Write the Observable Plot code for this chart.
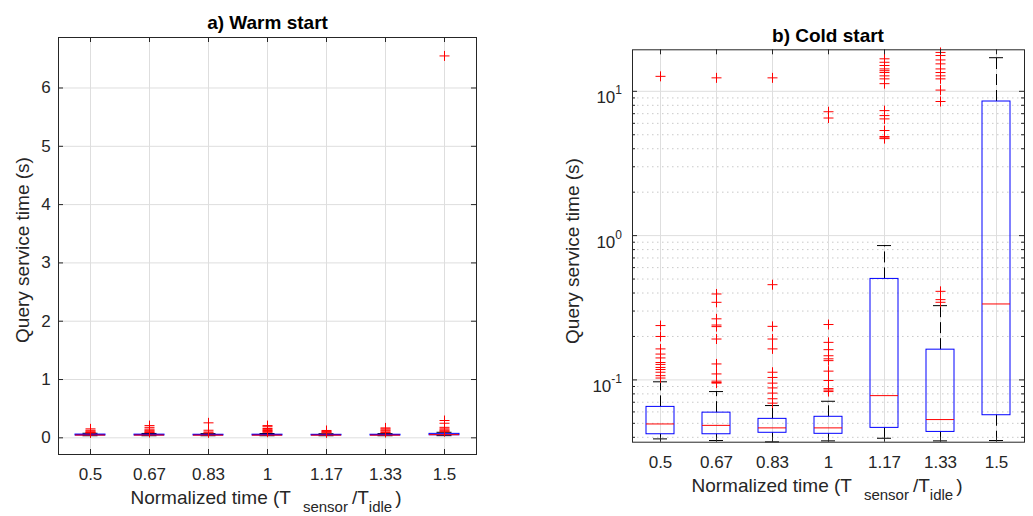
<!DOCTYPE html>
<html><head><meta charset="utf-8">
<script src="https://cdn.jsdelivr.net/npm/d3@7"></script>
<script src="https://cdn.jsdelivr.net/npm/@observablehq/plot@0.6"></script>
<style>
body{margin:0;background:#fff;}
#fig{position:relative;width:1033px;height:516px;overflow:hidden;background:#fff;}
#fig svg{position:absolute;top:0;max-width:none;}
</style></head>
<body><div id="fig"></div>
<script>
// ---------- data ----------
const categories = ["0.5","0.67","0.83","1","1.17","1.33","1.5"];

// a) Warm start (linear scale, seconds)
const warmQ1     = [0.040, 0.040, 0.040, 0.040, 0.040, 0.040, 0.044];
const warmMedian = [0.047, 0.047, 0.046, 0.046, 0.046, 0.046, 0.054];
const warmQ3     = [0.056, 0.055, 0.053, 0.054, 0.052, 0.053, 0.068];
const warmLow    = [0.036, 0.036, 0.036, 0.036, 0.036, 0.036, 0.037];
const warmHigh   = [0.078, 0.075, 0.072, 0.074, 0.070, 0.072, 0.095];
const warmOutliers = [
  [0.154, 0.13, 0.115, 0.10, 0.09, 0.085],
  [0.21, 0.18, 0.15, 0.13, 0.115, 0.10, 0.09],
  [0.257, 0.13, 0.10, 0.085],
  [0.21, 0.19, 0.16, 0.14, 0.125, 0.11, 0.095],
  [0.126, 0.11, 0.097, 0.085],
  [0.17, 0.154, 0.135, 0.12, 0.10, 0.09],
  [6.55, 0.297, 0.25, 0.18, 0.154, 0.135, 0.12, 0.105]
];
const warmYTicks = [0, 1, 2, 3, 4, 5, 6];

// b) Cold start (log scale, seconds)
const coldQ1     = [0.042, 0.042, 0.043, 0.0423, 0.0465, 0.0436, 0.0569];
const coldMedian = [0.0495, 0.0484, 0.0465, 0.0465, 0.0778, 0.0531, 0.336];
const coldQ3     = [0.065, 0.0593, 0.0537, 0.0555, 0.501, 0.162, 8.5];
const coldLow    = [0.039, 0.038, 0.0372, 0.0378, 0.0394, 0.0378, 0.038];
const coldHigh   = [0.097, 0.083, 0.0664, 0.0711, 0.853, 0.327, 17.1];
const coldOutliers = [
  [12.7, 0.238, 0.200, 0.164, 0.151, 0.142, 0.132, 0.128, 0.122, 0.118, 0.113, 0.107, 0.103],
  [12.4, 0.394, 0.345, 0.265, 0.240, 0.234, 0.192, 0.129, 0.110, 0.098, 0.096, 0.095],
  [12.4, 0.457, 0.235, 0.192, 0.164, 0.113, 0.104, 0.095, 0.088, 0.081, 0.074, 0.069],
  [7.22, 6.53, 0.242, 0.182, 0.162, 0.147, 0.140, 0.136, 0.115, 0.099, 0.087, 0.085, 0.083],
  [16.8, 15.9, 15.1, 14.3, 13.9, 13.5, 12.8, 12.2, 11.3, 7.35, 6.79, 6.44, 5.35, 4.86, 4.76, 4.70],
  [18.6, 17.7, 16.5, 15.5, 14.3, 13.5, 12.8, 12.2, 10.2, 8.5, 0.411, 0.36, 0.345],
  []
];
const coldMajorTicks = [0.1, 1, 10];
const coldTickLabels = [["10", "-1"], ["10", "0"], ["10", "1"]];
const coldMinorTicks = [0.04,0.05,0.06,0.07,0.08,0.09,0.2,0.3,0.4,0.5,0.6,0.7,0.8,0.9,2,3,4,5,6,7,8,9];

const titles = ["a) Warm start", "b) Cold start"];
const yLabel = "Query service time (s)";

// ---------- helpers ----------
const FONT = "'Liberation Sans', Arial, Helvetica, sans-serif";
const AX = "#262626", GRID = "#dedede", MINOR = "#c9c9c9";
const plusSymbol = {draw(ctx, size) {
  const r = Math.sqrt(size / Math.PI);
  ctx.moveTo(-r, 0); ctx.lineTo(r, 0); ctx.moveTo(0, -r); ctx.lineTo(0, r);
}};
function rowsOf(q1, med, q3, lo, hi) {
  return categories.map((cat, i) => ({cat, q1: q1[i], med: med[i], q3: q3[i], lo: lo[i], hi: hi[i]}));
}
function outRowsOf(outs) {
  return categories.flatMap((cat, i) => outs[i].map(v => ({cat, v})));
}
function boxMarks(rows, outs, capInset) {
  return [
    Plot.ruleX(rows, {x: "cat", y1: "q3", y2: "hi", stroke: "#000", strokeDasharray: "11,5"}),
    Plot.ruleX(rows, {x: "cat", y1: "q1", y2: "lo", stroke: "#000", strokeDasharray: "11,5"}),
    Plot.tickY(rows, {x: "cat", y: "hi", stroke: "#000", insetLeft: capInset, insetRight: capInset}),
    Plot.tickY(rows, {x: "cat", y: "lo", stroke: "#000", insetLeft: capInset, insetRight: capInset}),
    Plot.barY(rows, {x: "cat", y1: "q1", y2: "q3", fill: "none", stroke: "#0000ff"}),
    Plot.tickY(rows, {x: "cat", y: "med", stroke: "#ff0000"}),
    Plot.dot(outs, {x: "cat", y: "v", symbol: plusSymbol, r: 5, fill: "none", stroke: "#ff0000", strokeWidth: 1})
  ];
}
function xLab(sel, cx, by) {
  const t = sel.append("text").attr("x", cx).attr("y", by).attr("text-anchor", "middle")
    .attr("font-size", 19).attr("fill", AX);
  t.append("tspan").text("Normalized time (T");
  t.append("tspan").attr("dx", 12).attr("dy", 8).attr("font-size", 15).text("sensor");
  t.append("tspan").attr("dx", 4).attr("dy", -8).text("/T");
  t.append("tspan").attr("dy", 8).attr("font-size", 15).text("idle");
  t.append("tspan").attr("dx", 3).attr("dy", -8).text(")");
}
function yLab(sel, x, y) {
  sel.append("text").attr("transform", `translate(${x},${y}) rotate(-90)`)
    .attr("text-anchor", "middle").attr("font-size", 19).attr("fill", AX).text(yLabel);
}
function title(sel, cx, by, s) {
  sel.append("text").attr("x", cx).attr("y", by).attr("text-anchor", "middle")
    .attr("font-size", 19).attr("font-weight", "bold").attr("fill", "#000").text(s);
}

const fig = document.getElementById("fig");

// ---------- left panel ----------
{
  const W = 490, H = 516, mL = 58, mR = 14, mT = 37, mB = 62;
  const iW = W - mL - mR, iH = H - mT - mB;
  const rows = rowsOf(warmQ1, warmMedian, warmQ3, warmLow, warmHigh);
  const outs = outRowsOf(warmOutliers);
  const svg = Plot.plot({
    width: W, height: H, marginLeft: mL, marginRight: mR, marginTop: mT, marginBottom: mB,
    style: {fontFamily: FONT, color: AX, background: "#fff"},
    x: {type: "band", domain: categories, paddingInner: 0.5, paddingOuter: 0.25, label: null},
    y: {domain: [-0.286, 6.866], label: null},
    marks: [
      Plot.ruleY(warmYTicks, {stroke: GRID}),
      Plot.ruleX(categories, {stroke: GRID}),
      ...boxMarks(rows, outs, 7.5),
      Plot.ruleY(warmYTicks, {stroke: AX, insetRight: iW - 5}),
      Plot.ruleY(warmYTicks, {stroke: AX, insetLeft: iW - 5}),
      Plot.ruleX(categories, {stroke: AX, insetTop: iH - 5}),
      Plot.ruleX(categories, {stroke: AX, insetBottom: iH - 5}),
      Plot.frame({stroke: AX}),
      Plot.axisX({tickSize: 0, tickPadding: 13.6, fontSize: 17, label: null}),
      Plot.axisY(warmYTicks, {tickSize: 0, tickPadding: 7.7, fontSize: 17, label: null, tickFormat: d => String(d)})
    ]
  });
  svg.style.left = "0px";
  fig.appendChild(svg);
  const s = d3.select(svg);
  title(s, 267.5, 29, titles[0]);
  xLab(s, 266, 504);
  yLab(s, 29, 250);
}

// ---------- right panel ----------
{
  const OX = 540;
  const W = 493, H = 516, mL = 92, mR = 9, mT = 49.3, mB = 74.3;
  const iW = W - mL - mR, iH = H - mT - mB;
  const rows = rowsOf(coldQ1, coldMedian, coldQ3, coldLow, coldHigh);
  const outs = outRowsOf(coldOutliers);
  const svg = Plot.plot({
    width: W, height: H, marginLeft: mL, marginRight: mR, marginTop: mT, marginBottom: mB,
    style: {fontFamily: FONT, color: AX, background: "#fff"},
    x: {type: "band", domain: categories, paddingInner: 0.5, paddingOuter: 0.25, label: null},
    y: {type: "log", domain: [0.037, 19.4], label: null, axis: null},
    marks: [
      Plot.ruleY(coldMinorTicks, {stroke: MINOR, strokeDasharray: "1.5,3.5"}),
      Plot.ruleY(coldMajorTicks, {stroke: GRID}),
      Plot.ruleX(categories, {stroke: GRID}),
      ...boxMarks(rows, outs, 7),
      Plot.ruleY(coldMajorTicks, {stroke: AX, insetRight: iW - 5}),
      Plot.ruleY(coldMajorTicks, {stroke: AX, insetLeft: iW - 5}),
      Plot.ruleY(coldMinorTicks, {stroke: AX, insetRight: iW - 3}),
      Plot.ruleY(coldMinorTicks, {stroke: AX, insetLeft: iW - 3}),
      Plot.ruleX(categories, {stroke: AX, insetTop: iH - 5}),
      Plot.ruleX(categories, {stroke: AX, insetBottom: iH - 5}),
      Plot.frame({stroke: AX}),
      Plot.axisX({tickSize: 0, tickPadding: 13.5, fontSize: 17, label: null})
    ]
  });
  svg.style.left = OX + "px";
  fig.appendChild(svg);
  const s = d3.select(svg);
  const ys = svg.scale("y");
  coldMajorTicks.forEach((v, i) => {
    const t = s.append("text").attr("x", 82).attr("y", ys.apply(v) + 12.5)
      .attr("text-anchor", "end").attr("font-size", 17).attr("fill", AX);
    t.append("tspan").text(coldTickLabels[i][0]);
    t.append("tspan").attr("dy", -9).attr("font-size", 12).text(coldTickLabels[i][1]);
  });
  title(s, 828 - OX, 42, titles[1]);
  xLab(s, 827 - OX, 491.7);
  yLab(s, 579 - OX, 251);
}
</script>
</body></html>
